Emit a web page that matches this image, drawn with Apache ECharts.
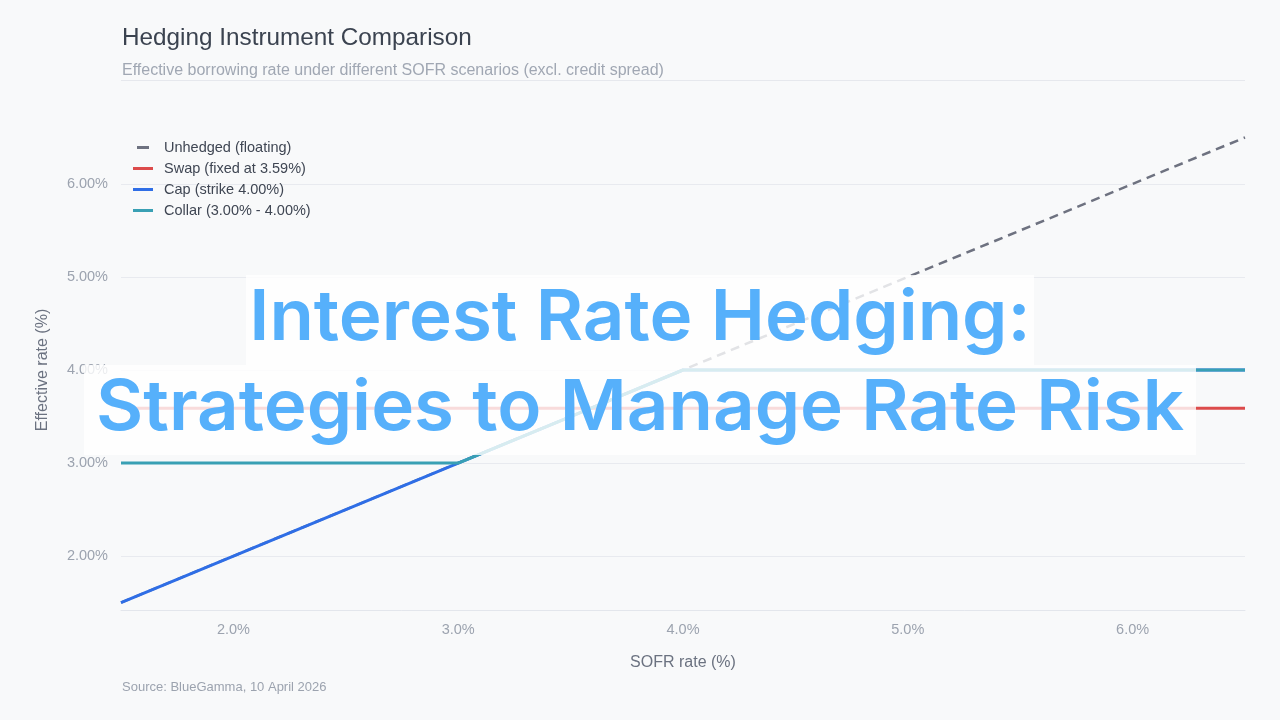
<!DOCTYPE html>
<html>
<head>
<meta charset="utf-8">
<script src="https://cdn.jsdelivr.net/npm/echarts@6/dist/echarts.min.js"></script>
<style>
html,body{margin:0;padding:0;background:#f8f9fa;}
#chart{width:1280px;height:720px;}
</style>
</head>
<body>
<div id="chart"></div>
<script>
// ---- data ----
const sofrRates = [1.5, 2.0, 2.5, 3.0, 3.5, 4.0, 4.5, 5.0, 5.5, 6.0, 6.5];
const unhedgedRates = [1.5, 2.0, 2.5, 3.0, 3.5, 4.0, 4.5, 5.0, 5.5, 6.0, 6.5];
const swapRates = [3.59, 3.59, 3.59, 3.59, 3.59, 3.59, 3.59, 3.59, 3.59, 3.59, 3.59];
const capRates = [1.5, 2.0, 2.5, 3.0, 3.5, 4.0, 4.0, 4.0, 4.0, 4.0, 4.0];
const collarRates = [3.0, 3.0, 3.0, 3.0, 3.5, 4.0, 4.0, 4.0, 4.0, 4.0, 4.0];
const seriesNames = ['Unhedged (floating)', 'Swap (fixed at 3.59%)', 'Cap (strike 4.00%)', 'Collar (3.00% - 4.00%)'];
const titleText = 'Hedging Instrument Comparison';
const subtitleText = 'Effective borrowing rate under different SOFR scenarios (excl. credit spread)';
const sourceText = 'Source: BlueGamma, 10 April 2026';
const xAxisName = 'SOFR rate (%)';
const yAxisName = 'Effective rate (%)';
const overlayLines = ['Interest Rate Hedging:', 'Strategies to Manage Rate Risk'];

const pair = (ys) => sofrRates.map((x, i) => [x, ys[i]]);

const FONT = '"Liberation Sans", Arial, sans-serif';
const chart = echarts.init(document.getElementById('chart'));

// overlay text fitting
const ovFont = '600 70px Inter';
const ctx = document.createElement('canvas').getContext('2d');
ctx.font = ovFont;
const w2 = ctx.measureText(overlayLines[1]).width;
const sx = 1088 / w2;

const solidIcon = 'path://M0,0h20v3h-20z';
const dashIcon = 'path://M0,0h10v2.5h-10z';

const option = {
  backgroundColor: '#f8f9fa',
  animation: false,
  title: [
    {text: titleText, left: 122, top: 26, padding: 0, textStyle: {fontFamily: FONT, fontSize: 24.3, fontWeight: 'normal', color: '#3b4350'}},
    {text: subtitleText, left: 122, top: 63, padding: 0, textStyle: {fontFamily: FONT, fontSize: 16, fontWeight: 'normal', color: '#a0a7b3'}},
    {text: sourceText, left: 122, top: 681, padding: 0, textStyle: {fontFamily: FONT, fontSize: 13, fontWeight: 'normal', color: '#9ca3af'}}
  ],
  legend: {
    left: 133, top: 140, orient: 'vertical', itemWidth: 20, itemHeight: 3, itemGap: 6, padding: 0,
    textStyle: {fontFamily: FONT, fontSize: 14.5, color: '#3f4653', padding: [0, 0, 0, 6]},
    data: [
      {name: seriesNames[0], icon: dashIcon},
      {name: seriesNames[1], icon: solidIcon},
      {name: seriesNames[2], icon: solidIcon},
      {name: seriesNames[3], icon: solidIcon}
    ]
  },
  grid: {left: 121, right: 35, top: 130, bottom: 110},
  xAxis: {
    type: 'value', min: 1.5, max: 6.5,
    name: xAxisName, nameLocation: 'middle', nameGap: 45,
    nameTextStyle: {fontFamily: FONT, fontSize: 16, color: '#6b7280'},
    axisLine: {show: true, lineStyle: {color: '#e3e6ec', width: 1}},
    axisTick: {show: false},
    splitLine: {show: false},
    axisLabel: {showMinLabel: false, showMaxLabel: false, margin: 12, fontFamily: FONT, fontSize: 14.5, color: '#9ca3af',
      formatter: v => v.toFixed(1) + '%'}
  },
  yAxis: {
    type: 'value', min: 1.42, max: 6.58,
    name: yAxisName, nameLocation: 'middle', nameGap: 70, nameRotate: 90,
    nameTextStyle: {fontFamily: FONT, fontSize: 16, color: '#6b7280'},
    axisLine: {show: false}, axisTick: {show: false},
    splitLine: {show: true, showMinLine: false, showMaxLine: false, lineStyle: {color: '#e8eaef', width: 1}},
    axisLabel: {showMinLabel: false, showMaxLabel: false, margin: 13, fontFamily: FONT, fontSize: 14.5, color: '#9ca3af',
      formatter: v => v.toFixed(2) + '%'}
  },
  series: [
    {name: seriesNames[0], type: 'line', data: pair(unhedgedRates), symbol: 'none', z: 2,
      lineStyle: {color: '#6e7280', width: 2.5, type: [9, 6]}, itemStyle: {color: '#6e7280'}},
    {name: seriesNames[1], type: 'line', data: pair(swapRates), symbol: 'none', z: 3,
      lineStyle: {color: '#dc4b4b', width: 3}, itemStyle: {color: '#dc4b4b'}},
    {name: seriesNames[2], type: 'line', data: pair(capRates), symbol: 'none', z: 4,
      lineStyle: {color: '#2f6ee6', width: 3}, itemStyle: {color: '#2f6ee6'}},
    {name: seriesNames[3], type: 'line', data: pair(collarRates), symbol: 'none', z: 5,
      lineStyle: {color: '#39a0b4', width: 3}, itemStyle: {color: '#39a0b4'}}
  ],
  graphic: [
    {type: 'line', shape: {x1: 121, y1: 80.5, x2: 1245, y2: 80.5}, style: {stroke: '#e6e8ed', lineWidth: 1}, z: 1},
    {type: 'rect', shape: {x: 246, y: 275, width: 788, height: 90}, style: {fill: 'rgba(255,255,255,0.8)'}, z: 100},
    {type: 'rect', shape: {x: 84, y: 365, width: 1112, height: 90}, style: {fill: 'rgba(255,255,255,0.8)'}, z: 100},
    {type: 'text', x: 640, y: 319, scaleX: sx, z: 101,
      style: {text: overlayLines[0], font: ovFont, fill: '#56b0fb', textAlign: 'center', textVerticalAlign: 'middle'}},
    {type: 'text', x: 640, y: 409, scaleX: sx, z: 101,
      style: {text: overlayLines[1], font: ovFont, fill: '#56b0fb', textAlign: 'center', textVerticalAlign: 'middle'}}
  ]
};
chart.setOption(option);
</script>
</body>
</html>
